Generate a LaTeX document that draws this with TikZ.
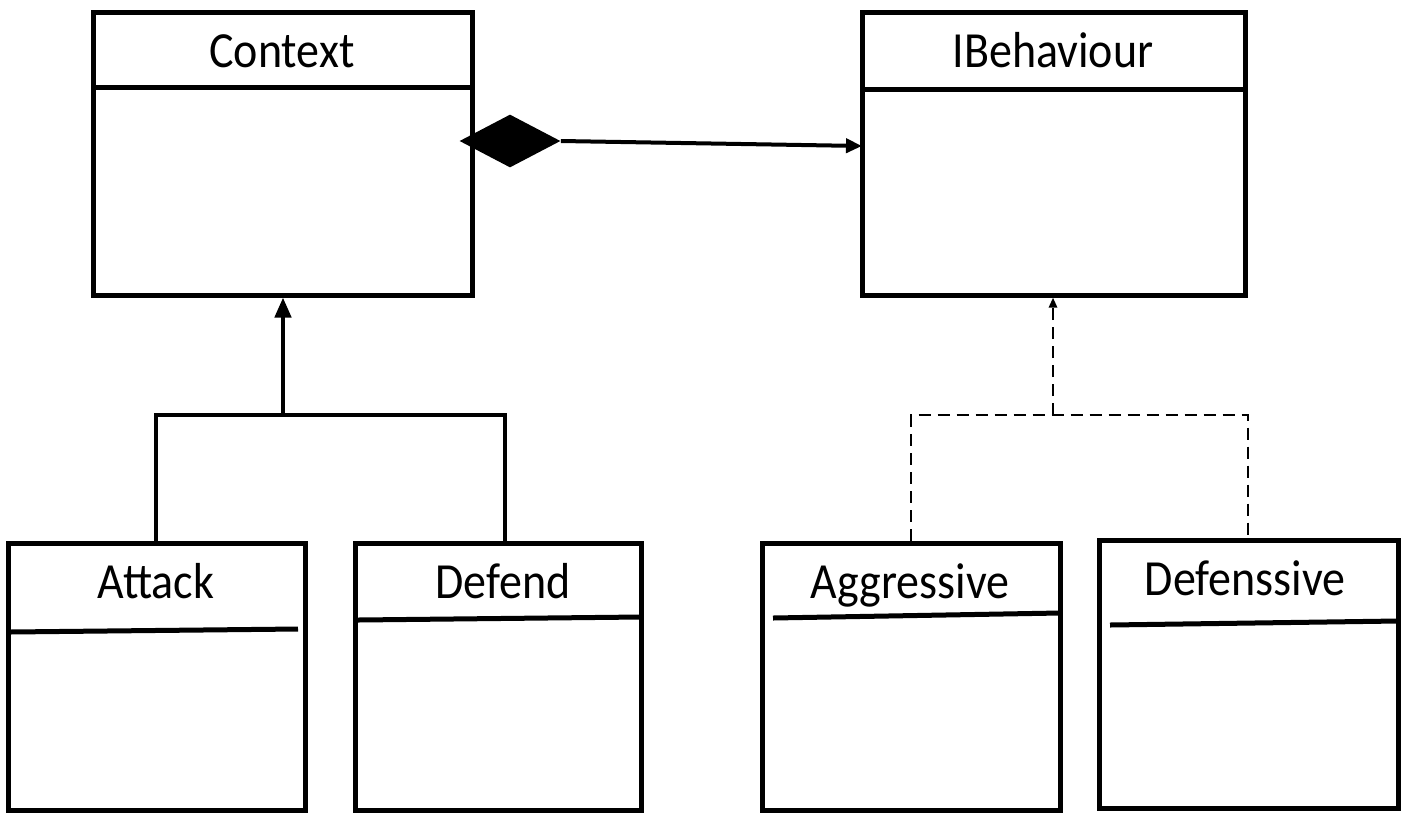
\documentclass[tikz,border=0pt]{standalone}
\usepackage{graphicx}
\usepackage{fontspec}
\setmainfont{Carlito}
\usetikzlibrary{arrows.meta,shapes.geometric,fit}
% class names are set slightly taller than the regular face
\newcommand{\cname}[1]{\scalebox{1}[1.1]{#1}}
\begin{document}
\begin{tikzpicture}[x=0.5pt,y=-0.5pt,
  umlbox/.style={draw,line width=2.5pt,inner sep=0pt},
  divider/.style={line width=2.5pt},
  classname/.style={font=\fontsize{23}{27}\selectfont,inner sep=0pt,anchor=base},
  solidlink/.style={line width=2.2pt},
  dashlink/.style={line width=1.4pt,dash pattern=on 6pt off 3.5pt},
  composite/.style={diamond,fill=black,draw=none,inner sep=0pt,minimum width=50.5pt,minimum height=26.5pt}]
\useasboundingbox (0,0) rectangle (1407,815);

% class boxes
\node[umlbox,fit={(93,12) (472,295)}] (context) {};
\node[umlbox,fit={(862,12) (1245,295)}] (ibeh) {};
\node[umlbox,fit={(8,543) (305,810)}] (attack) {};
\node[umlbox,fit={(355,543) (641,810)}] (defend) {};
\node[umlbox,fit={(762,543) (1060,810)}] (aggr) {};
\node[umlbox,fit={(1099,540) (1398,808)}] (defs) {};

% class names
\node[classname] (tcontext) at (282,67) {\cname{Context}};
\node[classname] (tibeh) at (1053,67) {\cname{IBehaviour}};
\node[classname] (tattack) at (156,598) {\cname{Attack}};
\node[classname] (tdefend) at (503,598) {\cname{Defend}};
\node[classname] (taggr) at (910,598) {\cname{Aggressive}};
\node[classname] (tdefs) at (1245,595) {\cname{Defenssive}};

% compartment dividers
\draw[divider] (93,87) -- (472,87);
\draw[divider] (862,89) -- (1245,89);
\draw[divider] (10,632) -- (298,629);
\draw[divider] (358,620) -- (641,617);
\draw[divider] (773,618) -- (1060,613);
\draw[divider] (1110,625) -- (1398,621);

% composition: Context owns IBehaviour
\node[composite] (diam) at (510,141) {};
\coordinate (ibin) at (862,146);
\draw[line width=2pt,-{Triangle[length=8pt,width=7pt]}] (diam.east) -- (ibin);

% inheritance: Attack, Defend -> Context
\coordinate (ctxjoin) at (283,415);
\coordinate (attjoin) at (156,415);
\coordinate (defjoin) at (505,415);
\draw[solidlink,-{Triangle[length=10pt,width=8pt]}] (ctxjoin) -- (context.south -| ctxjoin);
\draw[solidlink,line cap=rect] (attack.north -| attjoin) -- (attjoin) -- (defjoin) -- (defend.north -| defjoin);

% realization: Aggressive, Defenssive -> IBehaviour
\coordinate (ibjoin) at (1053,415);
\coordinate (aggjoin) at (911,415);
\coordinate (defsjoin) at (1248,415);
\draw[dashlink,-{Triangle[length=5pt,width=4pt]}] (ibjoin) -- (ibeh.south -| ibjoin);
\draw[dashlink] (aggr.north -| aggjoin) -- (aggjoin) -- (defsjoin) -- (defs.north -| defsjoin);
\end{tikzpicture}
\end{document}
